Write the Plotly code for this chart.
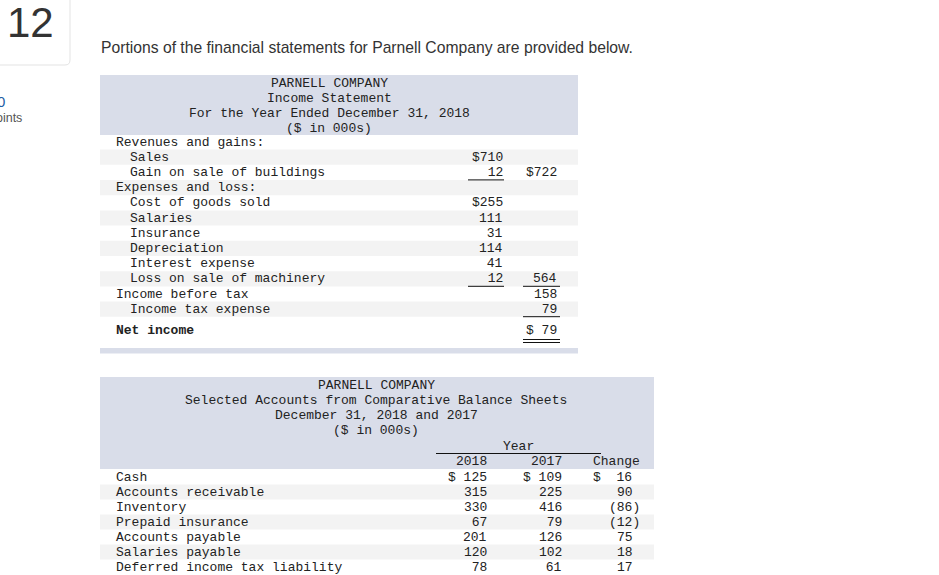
import plotly.graph_objects as go

# Income statement
is_title = ["PARNELL COMPANY", "Income Statement",
            "For the Year Ended December 31, 2018", "($ in 000s)"]
is_labels = ["Revenues and gains:", "Sales", "Gain on sale of buildings",
             "Expenses and loss:", "Cost of goods sold", "Salaries", "Insurance",
             "Depreciation", "Interest expense", "Loss on sale of machinery",
             "Income before tax", "Income tax expense", "Net income"]
is_indent = [0, 1, 1, 0, 1, 1, 1, 1, 1, 1, 0, 1, 0]
is_amounts = [None, 710, 12, None, 255, 111, 31, 114, 41, 12, None, None, None]
is_totals = [None, None, 722, None, None, None, None, None, None, 564, 158, 79, 79]
is_amount_dollar = [1, 4]
is_total_dollar = [2, 12]
is_amount_under = [2, 9]
is_total_under = [9, 11]

# Balance sheet
bs_title = ["PARNELL COMPANY", "Selected Accounts from Comparative Balance Sheets",
            "December 31, 2018 and 2017", "($ in 000s)"]
bs_years = ["2018", "2017"]
bs_labels = ["Cash", "Accounts receivable", "Inventory", "Prepaid insurance",
             "Accounts payable", "Salaries payable", "Deferred income tax liability"]
bs_2018 = [125, 315, 330, 67, 201, 120, 78]
bs_2017 = [109, 225, 416, 79, 126, 102, 61]
bs_change = [16, 90, -86, -12, 75, 18, 17]

HEAD = "#d9dde9"
STRIPE = "#f3f3f3"
INK = "#222222"
MONO = "Liberation Mono"
NB = "\u00a0"

fig = go.Figure()
shapes = []
notes = []


def txt(x, y, s, anchor="left", size=13, font=MONO, color=INK):
    notes.append(dict(x=x, y=y, xref="x", yref="y", text=s.replace(" ", NB),
                      showarrow=False, xanchor=anchor, yanchor="middle",
                      borderpad=0, font=dict(family=font, size=size, color=color)))


def rect(x0, x1, y0, y1, color):
    shapes.append(dict(type="rect", xref="x", yref="y", x0=x0, x1=x1, y0=y0, y1=y1,
                       fillcolor=color, line=dict(width=0), layer="below"))


def hline(x0, x1, y):
    shapes.append(dict(type="line", xref="x", yref="y", x0=x0, x1=x1, y0=y, y1=y,
                       line=dict(color="#111111", width=1)))


# question card on the left (its left part is cut off by the page edge)
shapes.append(dict(type="path", xref="x", yref="y",
                   path="M -2,-2 L 70,-2 L 70,60 Q 70,65 65,65 L -2,65 Z",
                   line=dict(color="#e3e3e3", width=1), fillcolor="white"))
txt(30, 22, "12", "center", 42, "Liberation Sans", "#333333")
txt(6, 101, "0", "right", 15, "Liberation Sans", "#1f5fa6")
txt(23, 118, "points", "right", 12.5, "Liberation Sans", "#555555")
txt(100, 47, "Portions of the financial statements for Parnell Company are provided below.",
    "left", 15.7, "Liberation Sans", "#333333")

# ---- income statement ----
rect(100, 578, 75, 135, HEAD)
for i, s in enumerate(is_title):
    txt(329, 83 + 15 * i, s, "center")

row_y = []
for i in range(len(is_labels)):
    y = 142 + 15.2 * i
    if i == len(is_labels) - 1:
        y += 5.6
    row_y.append(y)
    if i % 2 == 1:
        rect(100, 578, y - 7.6, y + 7.6, STRIPE)

for i, lab in enumerate(is_labels):
    y = row_y[i]
    s = "<b>" + lab + "</b>" if lab == "Net income" else lab
    txt(115 + 14 * is_indent[i], y, s)
    if is_amounts[i] is not None:
        v = f"{is_amounts[i]:>3}"
        txt(504, y, ("$" + v) if i in is_amount_dollar else v, "right")
    if is_totals[i] is not None:
        v = f"{is_totals[i]:>3}"
        txt(558, y, ("$" + v) if i in is_total_dollar else v, "right")

for i in is_amount_under:
    hline(468, 504, row_y[i] + 7.5)
for i in is_total_under:
    hline(523, 560, row_y[i] + 7.5)
hline(523, 560, row_y[-1] + 9.5)
hline(523, 560, row_y[-1] + 12.5)
rect(100, 578, 348, 353.5, HEAD)

# ---- balance sheet ----
rect(100, 654, 377, 469, HEAD)
for i, s in enumerate(bs_title):
    txt(376, 385 + 15.2 * i, s, "center")
txt(518, 446, "Year", "center")
hline(436, 601, 453.5)
txt(488, 461, bs_years[0], "right")
txt(563, 461, bs_years[1], "right")
txt(641, 461, "Change", "right")

for i, lab in enumerate(bs_labels):
    y = 477 + 15 * i
    if i % 2 == 1:
        rect(100, 654, y - 7.5, y + 7.5, STRIPE)
    txt(115, y, lab)
    a, b = f"{bs_2018[i]:>3}", f"{bs_2017[i]:>3}"
    c = f"({-bs_change[i]})" if bs_change[i] < 0 else f"{bs_change[i]} "
    if i == 0:
        a, b, c = "$ " + a, "$ " + b, "$" + f"{c:>5}"
    txt(488, y, a, "right")
    txt(563, y, b, "right")
    txt(641, y, c, "right")

fig.add_trace(go.Scatter(x=[0, 939], y=[0, 575], mode="markers",
                         marker=dict(opacity=0), hoverinfo="skip", showlegend=False))
fig.update_layout(width=939, height=575, margin=dict(l=0, r=0, t=0, b=0),
                  paper_bgcolor="white", plot_bgcolor="white",
                  shapes=shapes, annotations=notes, showlegend=False,
                  xaxis=dict(range=[0, 939], visible=False, fixedrange=True),
                  yaxis=dict(range=[575, 0], visible=False, fixedrange=True))
fig.write_html("out.html", config={"displayModeBar": False},
               post_script="document.body.style.margin='0';document.body.style.overflow='hidden';")
